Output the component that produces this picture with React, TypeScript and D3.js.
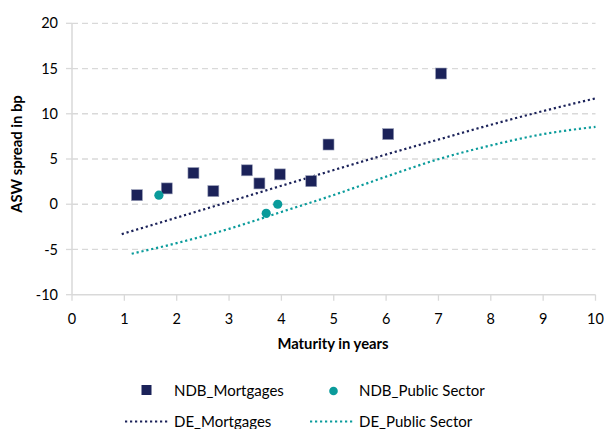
import React from 'react';
import * as d3 from 'd3';

// scatter: NDB covered bonds
const mortMaturity = [1.24, 1.81, 2.32, 2.7, 3.34, 3.58, 3.97, 4.57, 4.9, 6.04, 7.05];
const mortSpread = [1.0, 1.75, 3.45, 1.45, 3.75, 2.3, 3.3, 2.55, 6.6, 7.75, 14.45];
const pubMaturity = [1.66, 3.71, 3.93];
const pubSpread = [1.0, -1.0, 0.0];

// fitted curves (DE)
const deMortYears = [0.95, 2, 3, 4, 5, 6, 7, 8, 9, 10];
const deMortSpread = [-3.3, -1.48, 0.28, 2.04, 3.78, 5.5, 7.15, 8.78, 10.3, 11.7];
const dePubYears = [1.14, 2, 3, 4, 5, 6, 7, 8, 9, 10];
const dePubSpread = [-5.47, -4.3, -2.72, -0.85, 1.02, 3.05, 4.98, 6.5, 7.75, 8.55];

const xTicks = [0, 1, 2, 3, 4, 5, 6, 7, 8, 9, 10];
const yTicks = [-10, -5, 0, 5, 10, 15, 20];

const NAVY = '#1b2259';
const TEAL = '#0a9b9b';
const GRID = '#d9d9d9';
const FONT = 'Lato, "Open Sans", sans-serif';

export default function App() {
  const width = 604;
  const height = 429;
  const x = d3.scaleLinear().domain([0, 10]).range([72, 595.5]);
  const y = d3.scaleLinear().domain([-10, 20]).range([294.7, 23.3]);

  const line = d3
    .line<[number, number]>()
    .x((d) => x(d[0]))
    .y((d) => y(d[1]))
    .curve(d3.curveMonotoneX);

  const mortCurve = deMortYears.map((v, i) => [v, deMortSpread[i]] as [number, number]);
  const pubCurve = dePubYears.map((v, i) => [v, dePubSpread[i]] as [number, number]);

  const dots = '2.2 2.8';

  return (
    <svg
      width={width}
      height={height}
      style={{ position: 'absolute', left: 0, top: 0, background: '#fff' }}
      fontFamily={FONT}
    >
      {/* grid */}
      {yTicks.map((t) => (
        <g key={'gy' + t}>
          {t > -10 && (
            <line x1={x(0)} x2={x(10)} y1={y(t)} y2={y(t)} stroke={GRID} strokeWidth={1.3} strokeDasharray="6 4" />
          )}
          <line x1={x(0) - 6} x2={x(0)} y1={y(t)} y2={y(t)} stroke={GRID} strokeWidth={1.3} />
          <text x={58} y={y(t)} dy="0.35em" textAnchor="end" fontSize={14.5} fill="#000">
            {t}
          </text>
        </g>
      ))}
      {/* axes */}
      <line x1={x(0)} x2={x(0)} y1={y(20)} y2={y(-10)} stroke={GRID} strokeWidth={1.5} />
      <line x1={x(0)} x2={x(10)} y1={y(-10)} y2={y(-10)} stroke={GRID} strokeWidth={1.5} />
      {xTicks.map((t) => (
        <g key={'gx' + t}>
          <line x1={x(t)} x2={x(t)} y1={y(-10)} y2={y(-10) + 6} stroke={GRID} strokeWidth={1.3} />
          <text x={x(t)} y={319} dy="0.35em" textAnchor="middle" fontSize={14.5} fill="#000">
            {t}
          </text>
        </g>
      ))}
      <text x={333} y={344} dy="0.35em" textAnchor="middle" fontSize={14.8} fontWeight="bold">
        Maturity in years
      </text>
      <text
        transform="translate(17,154) rotate(-90)"
        dy="0.35em"
        textAnchor="middle"
        fontSize={14.8}
        fontWeight="bold"
      >
        ASW spread in bp
      </text>

      {/* curves */}
      <path d={line(mortCurve) ?? ''} fill="none" stroke={NAVY} strokeWidth={2.2} strokeDasharray={dots} />
      <path d={line(pubCurve) ?? ''} fill="none" stroke={TEAL} strokeWidth={2.2} strokeDasharray={dots} />

      {/* points */}
      {mortMaturity.map((m, i) => (
        <rect
          key={'m' + i}
          x={x(m) - 5.5}
          y={y(mortSpread[i]) - 5.5}
          width={11}
          height={11}
          fill={NAVY}
          stroke="#9aa0b8"
          strokeWidth={0.6}
        />
      ))}
      {pubMaturity.map((m, i) => (
        <circle key={'p' + i} cx={x(m)} cy={y(pubSpread[i])} r={4.6} fill={TEAL} />
      ))}

      {/* legend */}
      <rect x={141.5} y={385} width={10} height={10} fill={NAVY} />
      <text x={174} y={391} dy="0.35em" fontSize={15}>NDB_Mortgages</text>
      <circle cx={333.5} cy={391} r={4.3} fill={TEAL} />
      <text x={359} y={391} dy="0.35em" fontSize={15}>NDB_Public Sector</text>
      <line x1={125} x2={169} y1={421.5} y2={421.5} stroke={NAVY} strokeWidth={2.2} strokeDasharray={dots} />
      <text x={174} y={422} dy="0.35em" fontSize={15}>DE_Mortgages</text>
      <line x1={310} x2={355} y1={421.5} y2={421.5} stroke={TEAL} strokeWidth={2.2} strokeDasharray={dots} />
      <text x={359} y={422} dy="0.35em" fontSize={15}>DE_Public Sector</text>
    </svg>
  );
}
